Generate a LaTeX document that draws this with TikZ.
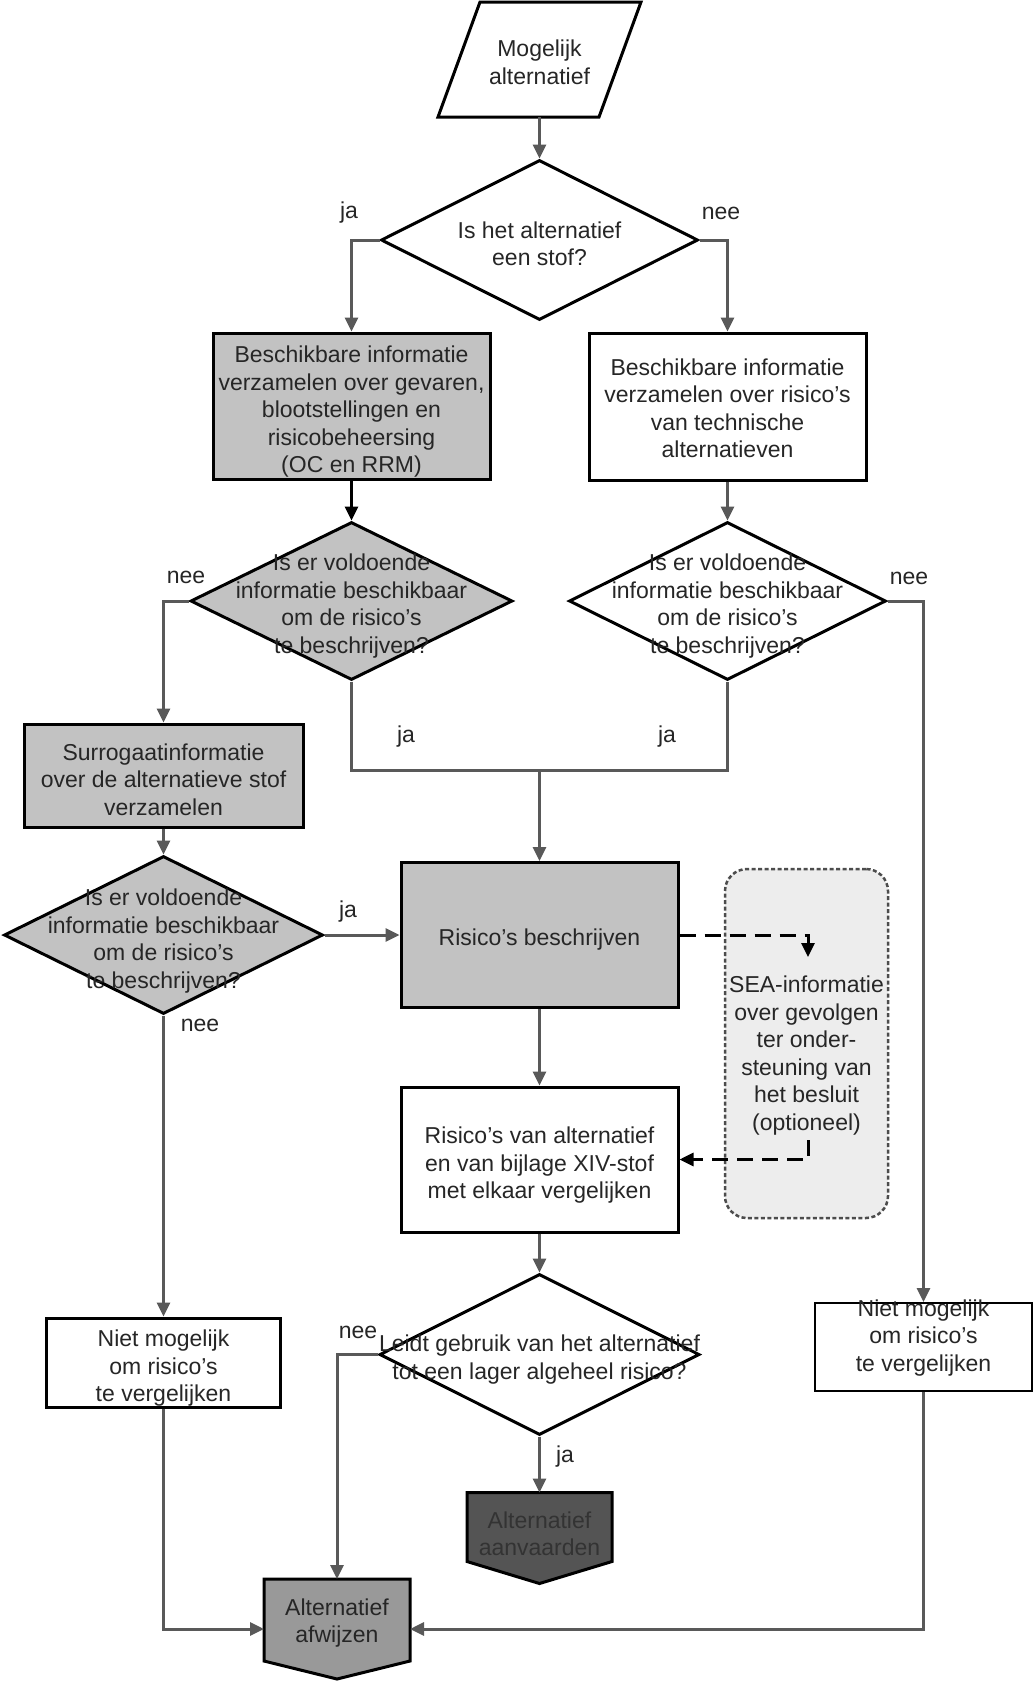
\documentclass[tikz,border=0pt]{standalone}
\usepackage{fontspec}
\setmainfont{Liberation Sans}
\usetikzlibrary{shapes.geometric, arrows.meta, calc, backgrounds}
\begin{document}
\begin{tikzpicture}[x=1pt, y=-1pt,
  every node/.style={font=\fontsize{23}{27.5}\selectfont, text=black!85},
  every label/.style={align=center, inner sep=0pt},
  box/.style={draw=black, line width=3pt, rectangle, align=center, inner sep=1pt},
  graybox/.style={box, fill=black!24},
  dec/.style={draw=black, line width=3pt, diamond, inner sep=0pt, fill=white},
  graydec/.style={dec, fill=black!24},
  ph/.style={rectangle, draw=none, outer sep=0pt, inner sep=0pt, align=center},
  seabox/.style={draw=black!70, line width=2.5pt, dash pattern=on 4pt off 2.5pt, rounded corners=22pt, fill=black!7},
  conn/.style={draw=black!65, line width=3pt, -{Triangle[length=14pt,width=13pt]}},
  plainline/.style={draw=black!65, line width=3pt},
  dconn/.style={draw=black, line width=3pt, dash pattern=on 16pt off 9pt, -{Triangle[length=14pt,width=13pt]}},
  lbl/.style={inner sep=0pt}
]
\useasboundingbox (0,0) rectangle (1035,1682);

% nodes
\node[ph, minimum width=161pt, minimum height=115pt,
  label={[yshift=-3pt]center:{Mogelijk\\alternatief}}] (para) at (539.5,59.5) {};
\node[dec, minimum width=317pt, minimum height=160pt,
  label={[yshift=-4pt]center:{Is het alternatief\\een stof?}}] (d1) at (539.5,240) {};
\node[graybox, minimum width=277pt, minimum height=146pt,
  label={[yshift=-6pt]center:{Beschikbare informatie\\verzamelen over gevaren,\\blootstellingen en\\risicobeheersing\\(OC en RRM)}}] (b1) at (351.5,406) {};
\node[box, fill=white, minimum width=277pt, minimum height=147pt,
  label={[yshift=-2pt]center:{Beschikbare informatie\\verzamelen over risico's\\van technische\\alternatieven}}] (b2) at (727.5,406.5) {};
\node[graydec, minimum width=322pt, minimum height=158pt,
  label={[yshift=-5pt]center:{Is er voldoende\\informatie beschikbaar\\om de risico's\\te beschrijven?}}] (d2) at (351.5,601) {};
\node[dec, minimum width=317pt, minimum height=158pt,
  label={[yshift=-5pt]center:{Is er voldoende\\informatie beschikbaar\\om de risico's\\te beschrijven?}}] (d3) at (727.5,601) {};
\node[graybox, minimum width=279pt, minimum height=103pt,
  label={[yshift=-4pt]center:{Surrogaatinformatie\\over de alternatieve stof\\verzamelen}}] (sur) at (163.5,775.5) {};
\node[graydec, minimum width=319pt, minimum height=158pt,
  label={[yshift=-6pt]center:{Is er voldoende\\informatie beschikbaar\\om de risico's\\te beschrijven?}}] (d4) at (163.5,935) {};
\node[graybox, minimum width=277pt, minimum height=145pt,
  label={[yshift=-5pt]center:{Risico's beschrijven}}] (risk) at (539.5,935) {};
\node[seabox, minimum width=163pt, minimum height=349pt,
  label={[yshift=-12pt]center:{SEA-informatie\\over gevolgen\\ter onder-\\steuning van\\het besluit\\(optioneel)}}] (sea) at (806.5,1043.5) {};
\node[box, fill=white, minimum width=277pt, minimum height=145pt,
  label={[yshift=-6pt]center:{Risico's van alternatief\\en van bijlage XIV-stof\\met elkaar vergelijken}}] (cmp) at (539.5,1159.5) {};
\node[dec, minimum width=320pt, minimum height=161pt,
  label={[yshift=-5pt]center:{Leidt gebruik van het alternatief\\tot een lager algeheel risico?}}] (d5) at (539.5,1354.5) {};
\node[box, fill=white, minimum width=234pt, minimum height=89pt,
  label={[yshift=-6pt]center:{Niet mogelijk\\om risico's\\te vergelijken}}] (nm1) at (163.5,1362.5) {};
\node[box, line width=2pt, fill=white, minimum width=217pt, minimum height=88pt,
  label={[yshift=9pt]center:{Niet mogelijk\\om risico's\\te vergelijken}}] (nm2) at (923.5,1347) {};
\node[ph, minimum width=145pt, minimum height=69pt,
  label={[yshift=-7pt, text=black!80]center:{Alternatief\\aanvaarden}}] (acc) at (539.5,1527) {};
\node[ph, minimum width=146pt, minimum height=82pt,
  label={[yshift=-3pt]center:{Alternatief\\afwijzen}}] (afw) at (337,1620) {};

\coordinate (j) at (539.5,770);
\coordinate (sIn) at (808,957);
\coordinate (sOut) at (808,1140);

% connectors
\draw[conn] (para.south) -- (d1.north);
\draw[conn] (d1.west) -| (b1.north);
\draw[conn] (d1.east) -| (b2.north);
\draw[conn, draw=black] (b1.south) -- (d2.north);
\draw[conn] (b2.south) -- (d3.north);
\draw[conn] (d2.west) -| (sur.north);
\draw[conn] (sur.south) -- (d4.north);
\draw[plainline] (d2.south) |- (j) -| (d3.south);
\draw[conn] (j) -- (risk.north);
\draw[conn] (d4.east) -- (risk.west);
\draw[conn] (d3.east) -| (nm2.north);
\draw[conn] (d4.south) -- (nm1.north);
\draw[conn] (risk.south) -- (cmp.north);
\draw[dconn] (risk.east) -| (sIn);
\draw[dconn] (sOut) |- (cmp.east);
\draw[conn] (cmp.south) -- (d5.north);
\draw[conn] (d5.west) -| (afw.north);
\draw[conn] (d5.south) -- (acc.north);
\draw[conn] (nm1.south) |- ([yshift=-9pt]afw.west);
\draw[conn] (nm2.south) |- ([yshift=-9pt]afw.east);

% labels
\node[lbl] (lja1) at (349,213) {ja};
\node[lbl] (lnee1) at (721,213) {nee};
\node[lbl] (lnee2) at (186,577) {nee};
\node[lbl] (lnee3) at (909,578) {nee};
\node[lbl] (lja2) at (406,737) {ja};
\node[lbl] (lja3) at (667,737) {ja};
\node[lbl] (lja4) at (348,912) {ja};
\node[lbl] (lnee4) at (200,1025) {nee};
\node[lbl] (lnee5) at (358,1332) {nee};
\node[lbl] (lja5) at (565,1457) {ja};

% background shapes
\begin{scope}[on background layer]
  \fill[white] (0,0) rectangle (1035,1682);
  \draw[line width=3pt, fill=white] ($(para.north west)+(21,0)$) -- ($(para.north east)+(21,0)$)
     -- ($(para.south east)+(-21,0)$) -- ($(para.south west)+(-21,0)$) -- cycle;
  \draw[line width=3pt, fill=black!67] (acc.north west) -- (acc.north east) -- (acc.south east)
     -- ($(acc.south)+(0,22)$) -- (acc.south west) -- cycle;
  \draw[line width=3pt, fill=black!40] (afw.north west) -- (afw.north east) -- (afw.south east)
     -- ($(afw.south)+(0,18)$) -- (afw.south west) -- cycle;
\end{scope}
\end{tikzpicture}
\end{document}
